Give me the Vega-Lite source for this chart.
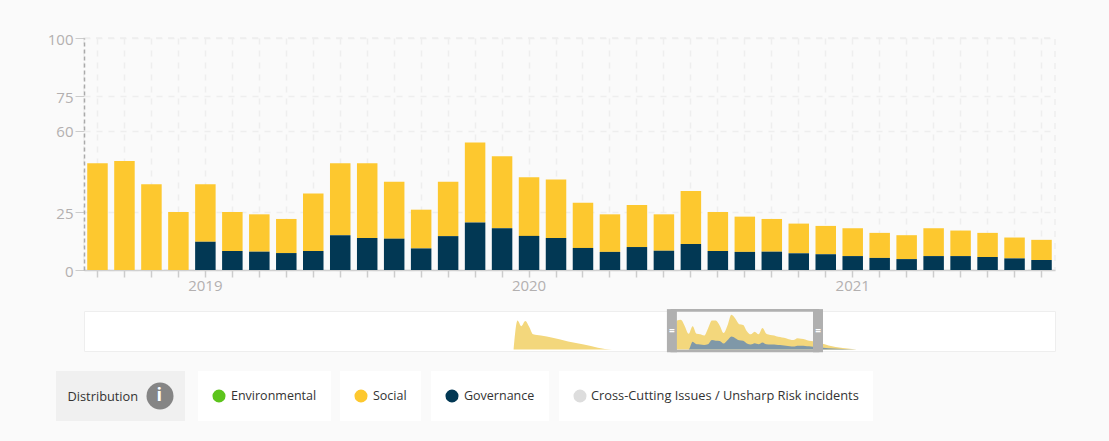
{"$schema":"https://vega.github.io/schema/vega-lite/v6.json","background":"#fafafa","padding":{"left":46,"top":31,"right":53,"bottom":19},"config":{"font":"Open Sans","view":{"stroke":null}},"spacing":41,"bounds":"flush","resolve":{"scale":{"color":"independent"}},
"datasets":{"bars":[
{"month":"2018-09","series":"Social","value":46},{"month":"2018-10","series":"Social","value":47},{"month":"2018-11","series":"Social","value":37},{"month":"2018-12","series":"Social","value":25},{"month":"2019-01","series":"Social","value":24.8},{"month":"2019-02","series":"Social","value":16.8},{"month":"2019-03","series":"Social","value":16.1},{"month":"2019-04","series":"Social","value":14.7},{"month":"2019-05","series":"Social","value":24.8},{"month":"2019-06","series":"Social","value":31},{"month":"2019-07","series":"Social","value":32.2},{"month":"2019-08","series":"Social","value":24.5},{"month":"2019-09","series":"Social","value":16.7},{"month":"2019-10","series":"Social","value":23.4},{"month":"2019-11","series":"Social","value":34.5},{"month":"2019-12","series":"Social","value":31},{"month":"2020-01","series":"Social","value":25.3},{"month":"2020-02","series":"Social","value":25.2},{"month":"2020-03","series":"Social","value":19.5},{"month":"2020-04","series":"Social","value":16.2},{"month":"2020-05","series":"Social","value":18.1},{"month":"2020-06","series":"Social","value":15.7},{"month":"2020-07","series":"Social","value":22.8},{"month":"2020-08","series":"Social","value":16.8},{"month":"2020-09","series":"Social","value":15.2},{"month":"2020-10","series":"Social","value":14.1},{"month":"2020-11","series":"Social","value":12.8},{"month":"2020-12","series":"Social","value":12.2},{"month":"2021-01","series":"Social","value":12},{"month":"2021-02","series":"Social","value":10.8},{"month":"2021-03","series":"Social","value":10.3},{"month":"2021-04","series":"Social","value":12},{"month":"2021-05","series":"Social","value":11},{"month":"2021-06","series":"Social","value":10.4},{"month":"2021-07","series":"Social","value":9},{"month":"2021-08","series":"Social","value":8.7},
{"month":"2018-09","series":"Governance","value":0},{"month":"2018-10","series":"Governance","value":0},{"month":"2018-11","series":"Governance","value":0},{"month":"2018-12","series":"Governance","value":0},{"month":"2019-01","series":"Governance","value":12.2},{"month":"2019-02","series":"Governance","value":8.2},{"month":"2019-03","series":"Governance","value":7.9},{"month":"2019-04","series":"Governance","value":7.3},{"month":"2019-05","series":"Governance","value":8.2},{"month":"2019-06","series":"Governance","value":15},{"month":"2019-07","series":"Governance","value":13.8},{"month":"2019-08","series":"Governance","value":13.5},{"month":"2019-09","series":"Governance","value":9.3},{"month":"2019-10","series":"Governance","value":14.6},{"month":"2019-11","series":"Governance","value":20.5},{"month":"2019-12","series":"Governance","value":18},{"month":"2020-01","series":"Governance","value":14.7},{"month":"2020-02","series":"Governance","value":13.8},{"month":"2020-03","series":"Governance","value":9.5},{"month":"2020-04","series":"Governance","value":7.8},{"month":"2020-05","series":"Governance","value":9.9},{"month":"2020-06","series":"Governance","value":8.3},{"month":"2020-07","series":"Governance","value":11.2},{"month":"2020-08","series":"Governance","value":8.2},{"month":"2020-09","series":"Governance","value":7.8},{"month":"2020-10","series":"Governance","value":7.9},{"month":"2020-11","series":"Governance","value":7.2},{"month":"2020-12","series":"Governance","value":6.8},{"month":"2021-01","series":"Governance","value":6},{"month":"2021-02","series":"Governance","value":5.2},{"month":"2021-03","series":"Governance","value":4.7},{"month":"2021-04","series":"Governance","value":6},{"month":"2021-05","series":"Governance","value":6},{"month":"2021-06","series":"Governance","value":5.6},{"month":"2021-07","series":"Governance","value":5},{"month":"2021-08","series":"Governance","value":4.3},
{"month":"2018-09","series":"Environmental","value":0},{"month":"2018-09","series":"Cross-Cutting Issues / Unsharp Risk incidents","value":0}],
"overview":[
{"date":"2015-03-01","social":0,"governance":0},{"date":"2015-04-01","social":46,"governance":0},{"date":"2015-05-01","social":37,"governance":0},{"date":"2015-06-01","social":45,"governance":0},{"date":"2015-07-01","social":36,"governance":0},{"date":"2015-08-01","social":24,"governance":0},{"date":"2015-10-01","social":22,"governance":0},{"date":"2016-01-01","social":18.5,"governance":0},{"date":"2016-05-01","social":12.7,"governance":0},{"date":"2016-09-01","social":8,"governance":0},{"date":"2017-04-10","social":0,"governance":0},{"date":"2018-08-01","social":0,"governance":0},
{"date":"2018-09-01","social":46,"governance":0},{"date":"2018-10-01","social":47,"governance":0},{"date":"2018-11-01","social":37,"governance":0},{"date":"2018-12-01","social":25,"governance":0},{"date":"2019-01-01","social":24.8,"governance":12.2},{"date":"2019-02-01","social":16.8,"governance":8.2},{"date":"2019-03-01","social":16.1,"governance":7.9},{"date":"2019-04-01","social":14.7,"governance":7.3},{"date":"2019-05-01","social":24.8,"governance":8.2},{"date":"2019-06-01","social":31,"governance":15},{"date":"2019-07-01","social":32.2,"governance":13.8},{"date":"2019-08-01","social":24.5,"governance":13.5},{"date":"2019-09-01","social":16.7,"governance":9.3},{"date":"2019-10-01","social":23.4,"governance":14.6},{"date":"2019-11-01","social":34.5,"governance":20.5},{"date":"2019-12-01","social":31,"governance":18},{"date":"2020-01-01","social":25.3,"governance":14.7},{"date":"2020-02-01","social":25.2,"governance":13.8},{"date":"2020-03-01","social":19.5,"governance":9.5},{"date":"2020-04-01","social":16.2,"governance":7.8},{"date":"2020-05-01","social":18.1,"governance":9.9},{"date":"2020-06-01","social":15.7,"governance":8.3},{"date":"2020-07-01","social":22.8,"governance":11.2},{"date":"2020-08-01","social":16.8,"governance":8.2},{"date":"2020-09-01","social":15.2,"governance":7.8},{"date":"2020-10-01","social":14.1,"governance":7.9},{"date":"2020-11-01","social":12.8,"governance":7.2},{"date":"2020-12-01","social":12.2,"governance":6.8},{"date":"2021-01-01","social":12,"governance":6},{"date":"2021-02-01","social":10.8,"governance":5.2},{"date":"2021-03-01","social":10.3,"governance":4.7},{"date":"2021-04-01","social":12,"governance":6},{"date":"2021-05-01","social":11,"governance":6},{"date":"2021-06-01","social":10.4,"governance":5.6},{"date":"2021-07-01","social":9,"governance":5},{"date":"2021-08-01","social":8.7,"governance":4.3},{"date":"2021-12-01","social":4.5,"governance":2},{"date":"2022-07-10","social":0,"governance":0}],
"window":[{"start":"2018-07-23","end":"2021-09-09"}]},
"vconcat":[
{"width":971,"height":232,"data":{"name":"bars"},
"view":{"stroke":"#eeeeee","strokeDash":[6,6],"strokeWidth":1.5},
"transform":[{"stack":"value","groupby":["month"],"sort":[{"field":"series","order":"ascending"}],"as":["v0","v1"]}],
"encoding":{
"x":{"field":"month","type":"ordinal","title":null,"scale":{"paddingInner":0.24,"paddingOuter":0.12},"axis":{"labelExpr":"slice(datum.value,5,7)=='01'?slice(datum.value,0,4):''","labelAngle":0,"labelOverlap":false,"labelFontSize":15,"labelColor":"#b3b0b0","labelPadding":1,"tickSize":7,"tickColor":"#cccccc","tickWidth":1.5,"domainColor":"#d0d0d0","domainWidth":1.5,"grid":true,"gridColor":"#eeeeee","gridDash":[6,6],"gridWidth":1.5}},
"y":{"field":"v0","type":"quantitative","title":null,"scale":{"domain":[0,100],"nice":false},"axis":{"values":[0,25,60,75,100],"labelFontSize":15,"labelColor":"#b3b0b0","labelPadding":2,"labelOffset":1,"tickSize":9,"tickColor":"#cccccc","domainColor":"#aaaaaa","domainDash":[4,3],"domainWidth":1.5,"grid":true,"gridColor":"#eeeeee","gridDash":[6,6],"gridWidth":1.5}},
"y2":{"field":"v1"}},
"resolve":{"scale":{"color":"independent"}},
"layer":[
{"transform":[{"filter":"datum.series=='Social'"}],"mark":"bar","encoding":{"color":{"field":"series","type":"nominal","scale":{"domain":["Social"],"range":["#fdc82f"]},"legend":{"title":null,"orient":"none","legendX":256,"legendY":333,"fillColor":"#ffffff","padding":14,"symbolType":"circle","symbolSize":170,"symbolStrokeWidth":0,"clipHeight":22,"labelFontSize":12.5,"labelColor":"#333333","labelOffset":5}}}},
{"transform":[{"filter":"datum.series=='Governance'"}],"mark":"bar","encoding":{"color":{"field":"series","type":"nominal","scale":{"domain":["Governance"],"range":["#023854"]},"legend":{"title":null,"orient":"none","legendX":347,"legendY":333,"fillColor":"#ffffff","padding":14,"symbolType":"circle","symbolSize":170,"symbolStrokeWidth":0,"clipHeight":22,"labelFontSize":12.5,"labelColor":"#333333","labelOffset":5}}}},
{"transform":[{"filter":"datum.series=='Environmental'"}],"mark":"bar","encoding":{"color":{"field":"series","type":"nominal","scale":{"domain":["Environmental"],"range":["#5cc41c"]},"legend":{"title":null,"orient":"none","legendX":114,"legendY":333,"fillColor":"#ffffff","padding":14,"symbolType":"circle","symbolSize":170,"symbolStrokeWidth":0,"clipHeight":22,"labelFontSize":12.5,"labelColor":"#333333","labelOffset":5}}}},
{"transform":[{"filter":"datum.series=='Cross-Cutting Issues / Unsharp Risk incidents'"}],"mark":"bar","encoding":{"color":{"field":"series","type":"nominal","scale":{"domain":["Cross-Cutting Issues / Unsharp Risk incidents"],"range":["#dddddd"]},"legend":{"title":null,"orient":"none","legendX":475,"legendY":333,"fillColor":"#ffffff","padding":14,"symbolType":"circle","symbolSize":170,"symbolStrokeWidth":0,"clipHeight":22,"labelFontSize":12.8,"labelColor":"#333333","labelOffset":4,"labelLimit":400}}}},
{"transform":[{"filter":"datum.series=='i'"}],"mark":"bar","encoding":{"color":{"field":"series","type":"nominal","scale":{"domain":["i"],"range":["#858585"]},"legend":{"title":"Distribution","titleOrient":"left","titleFontSize":12.8,"titleFontWeight":"normal","titleColor":"#333333","titlePadding":8,"orient":"none","legendX":-28,"legendY":333,"fillColor":"#f0f0f0","padding":11.5,"symbolType":"circle","symbolSize":729,"symbolStrokeWidth":0,"labelFontSize":18,"labelColor":"#ffffff","labelFontWeight":"bold","labelOffset":-17}}}}
]},
{"width":971,"height":40,"data":{"name":"overview"},
"view":{"fill":"#ffffff","stroke":"#eeeeee"},
"transform":[{"calculate":"datum.governance+datum.social","as":"total"}],
"encoding":{"x":{"field":"date","type":"temporal","title":null,"axis":null,"scale":{"domain":["2005-12-14","2026-10-09"]}},"y":{"type":"quantitative","title":null,"axis":null,"scale":{"domain":[-2.4,61],"nice":false,"zero":false}}},
"layer":[
{"data":{"name":"window"},"mark":{"type":"rect","fill":"#fafafa"},"encoding":{"x":{"field":"start","type":"temporal"},"x2":{"field":"end"},"y":{"datum":62,"type":"quantitative"},"y2":{"datum":-2.4}}},
{"mark":{"type":"area","interpolate":"monotone","fill":"#f3d77c"},"encoding":{"y":{"field":"total","type":"quantitative"},"y2":{"datum":0}}},
{"mark":{"type":"area","interpolate":"monotone","fill":"#7f98a8"},"encoding":{"y":{"field":"governance","type":"quantitative"},"y2":{"datum":0}}},
{"data":{"name":"window"},"mark":{"type":"rect","fill":null,"stroke":"#b0b0b0","strokeWidth":2.7},"encoding":{"x":{"field":"start","type":"temporal"},"x2":{"field":"end"},"y":{"datum":62,"type":"quantitative"},"y2":{"datum":-2.4}}},
{"data":{"name":"window"},"mark":{"type":"rule","color":"#b0b0b0","strokeWidth":10},"encoding":{"x":{"field":"start","type":"temporal"},"y":{"datum":64,"type":"quantitative"},"y2":{"datum":-4.4}}},
{"data":{"name":"window"},"mark":{"type":"rule","color":"#b0b0b0","strokeWidth":10},"encoding":{"x":{"field":"end","type":"temporal"},"y":{"datum":64,"type":"quantitative"},"y2":{"datum":-4.4}}},
{"data":{"name":"window"},"mark":{"type":"text","text":"=","color":"#ffffff","fontSize":10,"fontWeight":"bold"},"encoding":{"x":{"field":"start","type":"temporal"},"y":{"datum":30,"type":"quantitative"}}},
{"data":{"name":"window"},"mark":{"type":"text","text":"=","color":"#ffffff","fontSize":10,"fontWeight":"bold"},"encoding":{"x":{"field":"end","type":"temporal"},"y":{"datum":30,"type":"quantitative"}}}
]}
]}
